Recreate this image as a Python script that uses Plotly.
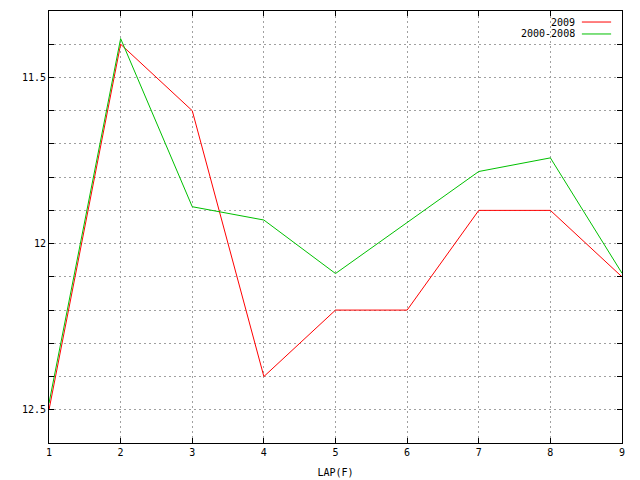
import plotly.graph_objects as go

laps = [1, 2, 3, 4, 5, 6, 7, 8, 9]
series_2009 = [12.5, 11.4, 11.6, 12.4, 12.2, 12.2, 11.9, 11.9, 12.1]
series_2000_2008 = [12.48, 11.383, 11.889, 11.929, 12.09, 11.936, 11.783, 11.742, 12.089]
series_names = ["2009", "2000-2008"]
series_colors = ["#ff0000", "#00c000"]

y_ticks = [11.3, 11.4, 11.5, 11.6, 11.7, 11.8, 11.9, 12.0, 12.1, 12.2, 12.3, 12.4, 12.5, 12.6]
y_labels = ["" if round(v * 10) % 5 else ("12" if abs(v - 12) < 1e-9 else f"{v:g}") for v in y_ticks]

FONT = "DejaVu Sans Mono"
FS = 10

fig = go.Figure()
for name, vals, col in zip(series_names, [series_2009, series_2000_2008], series_colors):
    fig.add_trace(go.Scatter(x=laps, y=vals, mode="lines", name=name,
                             line=dict(color=col, width=1), showlegend=False))

axis_common = dict(
    showline=True, linecolor="black", linewidth=1, mirror="ticks",
    ticks="inside", ticklen=5, tickcolor="black", tickwidth=1,
    showgrid=True, gridcolor="#a0a0a0", gridwidth=1, griddash="2px,3px",
    zeroline=False, tickfont=dict(family=FONT, size=FS, color="black"),
)

fig.update_layout(
    width=640, height=480,
    margin=dict(l=41, r=26, t=3, b=45, autoexpand=False),
    paper_bgcolor="white", plot_bgcolor="white",
    font=dict(family=FONT, size=FS, color="black"),
    xaxis=dict(range=[1, 9], tickvals=laps, ticktext=[str(v) for v in laps],
               title=dict(text="LAP(F)", standoff=11, font=dict(family=FONT, size=FS)),
               automargin=False, **axis_common),
    yaxis=dict(range=[12.6, 11.3], tickvals=y_ticks, ticktext=y_labels,
               automargin=False, **axis_common),
)

# gnuplot-style legend: text then line sample, right aligned
legend_y = [0.9745, 0.9468]
for name, col, ly in zip(series_names, series_colors, legend_y):
    fig.add_annotation(xref="paper", yref="paper", x=0.920, y=ly, text=name,
                       showarrow=False, xanchor="right", yanchor="middle",
                       borderpad=0, height=11,
                       font=dict(family=FONT, size=FS, color="black"))
    fig.add_shape(type="line", xref="paper", yref="paper", x0=0.930, x1=0.981,
                  y0=ly, y1=ly, line=dict(color=col, width=1))

fig.write_html("out.html")
